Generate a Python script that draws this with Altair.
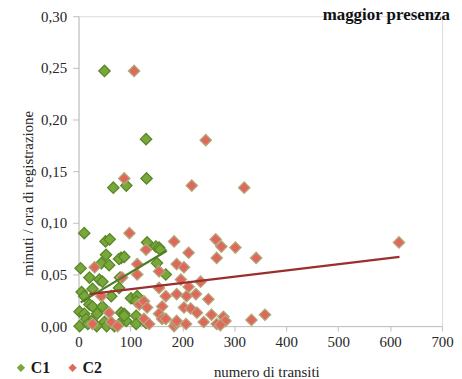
import altair as alt
import pandas as pd

# C1 (green) series
c1_x = [50, 130, 131, 67, 92, 11, 52, 60, 132, 149, 155, 157, 53, 82, 78, 88, 4, 44, 59, 151,
        168, 21, 40, 46, 80, 6, 11, 63, 78, 27, 101, 113, 111, 21, 27, 46, 2, 11, 36, 82, 88,
        15, 25, 50, 54, 92, 111, 111, 78, 2, 69, 35, 18, 130, 88]
c1_y = [0.247, 0.181, 0.143, 0.134, 0.136, 0.090, 0.082, 0.084, 0.081, 0.077, 0.076, 0.074,
        0.069, 0.066, 0.065, 0.067, 0.056, 0.061, 0.059, 0.061, 0.050, 0.047, 0.045, 0.043,
        0.047, 0.033, 0.029, 0.029, 0.037, 0.036, 0.027, 0.029, 0.024, 0.021, 0.019, 0.019,
        0.014, 0.012, 0.012, 0.013, 0.012, 0.007, 0.005, 0.004, 0.000, 0.005, 0.010, 0.002,
        0.002, 0.000, 0.000, 0.000, 0.002, 0.003, 0.010]

# C2 (red) series
c2_x = [107, 88, 245, 218, 319, 98, 184, 130, 212, 264, 275, 302, 266, 342, 617, 31, 113, 155,
        189, 203, 113, 84, 197, 235, 212, 155, 44, 168, 189, 208, 226, 250, 117, 126, 132, 203,
        216, 161, 155, 228, 256, 279, 359, 333, 59, 27, 63, 75, 126, 136, 161, 168, 184, 187,
        189, 207, 241, 266, 283, 273]
c2_y = [0.247, 0.143, 0.180, 0.136, 0.134, 0.090, 0.082, 0.074, 0.071, 0.084, 0.077, 0.076,
        0.066, 0.066, 0.081, 0.057, 0.060, 0.053, 0.060, 0.057, 0.050, 0.047, 0.045, 0.043,
        0.038, 0.037, 0.029, 0.029, 0.031, 0.029, 0.031, 0.026, 0.021, 0.024, 0.018, 0.018,
        0.017, 0.019, 0.012, 0.013, 0.011, 0.009, 0.011, 0.006, 0.013, 0.002, 0.004, 0.000,
        0.007, 0.002, 0.007, 0.007, 0.000, 0.003, 0.005, 0.002, 0.004, 0.002, 0.005, 0.001]

# linear trend lines (end points)
trend_series = ["C1", "C1", "C2", "C2"]
trend_x = [4, 170, 21, 618]
trend_y = [0.023, 0.073, 0.031, 0.067]

pts = pd.concat([
    pd.DataFrame({"x": c1_x, "y": c1_y, "serie": "C1"}),
    pd.DataFrame({"x": c2_x, "y": c2_y, "serie": "C2"}),
], ignore_index=True)
trend = pd.DataFrame({"x": trend_x, "y": trend_y, "serie": trend_series})

FONT = "Liberation Serif"
xs = alt.Scale(domain=[0, 700], nice=False)
ys = alt.Scale(domain=[0, 0.30], nice=False)

xaxis = alt.Axis(values=[0, 100, 200, 300, 400, 500, 600, 700], grid=False, labelFlush=False,
                 title="numero di transiti", titleX=189, titleY=46, titleBaseline="middle",
                 titleFont=FONT, titleFontSize=15, titleFontWeight="normal", titleColor="#262626",
                 labelFont=FONT, labelFontSize=15, labelColor="#262626", labelPadding=4,
                 domainColor="#bfbfbf", tickColor="#bfbfbf", tickSize=5)
yaxis = alt.Axis(values=[0, 0.05, 0.10, 0.15, 0.20, 0.25, 0.30], grid=False, labelFlush=False,
                 labelExpr="replace(format(datum.value, '.2f'), '.', ',')",
                 title="minuti / ora di registrazione", titleX=-51, titleY=178,
                 titleBaseline="middle", titleAlign="center", titleAngle=-90,
                 titleFont=FONT, titleFontSize=15, titleFontWeight="normal", titleColor="#262626",
                 labelFont=FONT, labelFontSize=15, labelColor="#262626", labelPadding=6,
                 domainColor="#bfbfbf", tickColor="#bfbfbf", tickSize=6)

color = alt.Color("serie:N",
                  scale=alt.Scale(domain=["C1", "C2"], range=["#78a83a", "#e0675c"]),
                  legend=alt.Legend(orient="none", legendX=-66, legendY=346, direction="horizontal",
                                    title=None, symbolType="diamond", symbolSize=70,
                                    symbolStrokeWidth=0, labelFont=FONT, labelFontSize=16,
                                    labelFontWeight="bold", labelColor="#1a1a1a",
                                    columnPadding=14, labelOffset=2))

points = alt.Chart(pts).mark_point(shape="diamond", filled=True, size=130, opacity=1,
                                   strokeWidth=1.3).encode(
    x=alt.X("x:Q", scale=xs, axis=xaxis),
    y=alt.Y("y:Q", scale=ys, axis=yaxis),
    color=color,
    stroke=alt.Stroke("serie:N", scale=alt.Scale(domain=["C1", "C2"], range=["#5b8629", "#b3a679"]),
                      legend=None),
    order=alt.Order("serie:N"),
)

lines = alt.Chart(trend).mark_line(strokeWidth=2.2).encode(
    x=alt.X("x:Q", scale=xs),
    y=alt.Y("y:Q", scale=ys),
    detail="serie:N",
    color=alt.Color("serie:N", scale=alt.Scale(domain=["C1", "C2"], range=["#4f7d26", "#9a2f2f"]),
                    legend=None),
)

chart = alt.layer(points, lines).resolve_scale(color="independent").properties(
    width=366, height=312,
    autosize=alt.AutoSizeParams(type="none"),
    padding={"left": 71, "top": 7, "right": 12, "bottom": 52},
    title=alt.TitleParams("maggior presenza", anchor="end", frame="group", orient="top",
                          font=FONT, fontSize=17, fontWeight="bold", color="#111111",
                          baseline="middle", offset=0, dx=8, dy=23),
).configure_view(stroke=None).configure(background="white")

chart.save("out.html", embed_options={"renderer": "svg", "actions": False})
